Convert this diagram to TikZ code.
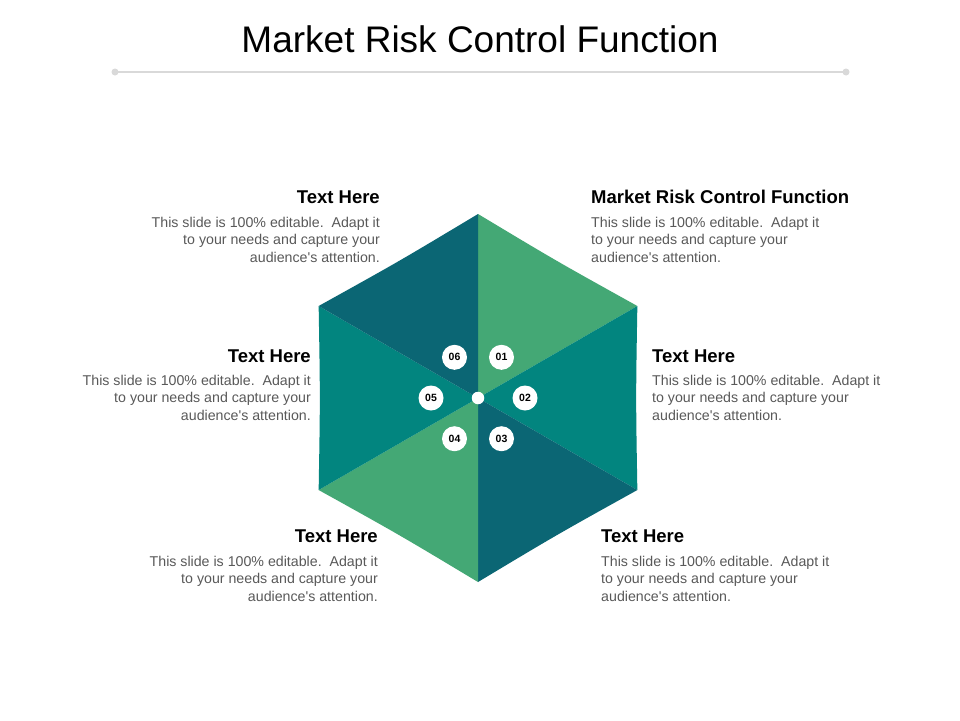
\documentclass[tikz,border=0pt]{standalone}
\usepackage{fontspec}
\setmainfont{Liberation Sans}
\usepackage{tikz}

\definecolor{mrgreen}{HTML}{44A875}
\definecolor{mrteal}{HTML}{02857F}
\definecolor{mrdark}{HTML}{0B6674}
\definecolor{mrgray}{HTML}{595959}
\definecolor{mrrule}{HTML}{D9D9D9}

\newcommand{\blurb}{This slide is 100\% editable.\ \ Adapt it\\to your needs and capture your\\audience\textquotesingle s attention.}

\tikzset{
    heading/.style={font=\fontsize{18.5}{22}\selectfont\bfseries, inner sep=0pt},
    blurbtext/.style={font=\fontsize{14.2}{17.5}\selectfont, text=mrgray, inner sep=0pt},
    badge/.style={circle, fill=white, minimum size=25pt, inner sep=0pt, font=\fontsize{10.5}{10.5}\selectfont\bfseries},
}

\begin{document}
\begin{tikzpicture}[x=1pt, y=-1pt]
        % page
        \fill[white] (0,0) rectangle (960,720);
        % title and rule
        \node[font=\fontsize{37}{40}\selectfont, anchor=base, inner sep=0pt] (title) at (480,52) {Market Risk Control Function};
        \coordinate (ruleL) at (115,72);
        \coordinate (ruleR) at (846,72);
        \draw[mrrule, line width=1.2pt] (ruleL) -- (ruleR);
        \fill[mrrule] (ruleL) circle (3.5) (ruleR) circle (3.5);
        % hexagon: six sectors with slightly hollow outer edges
        \begin{scope}[shift={(478,398)}]
            \foreach \a/\c in {-90/mrgreen, -30/mrteal, 30/mrdark, 90/mrgreen, 150/mrteal, 210/mrdark}
                \fill[\c] (0,0) -- (\a:184) .. controls (\a+30:157.8) .. (\a+60:184) -- cycle;
            \node[circle, fill=white, minimum size=12.5pt, inner sep=0pt] (hub) at (0,0) {};
            \foreach \a [count=\i] in {-60,0,60,120,180,240}
                \node[badge] (n\i) at (\a:47) {0\i};
        \end{scope}
        % texts round the hexagon (base of a text block is its last line)
        \node[heading, anchor=base west] (h1) at (591,203) {Market Risk Control Function};
        \node[blurbtext, align=left, anchor=base west] (t1) at (591,262) {\blurb};
        \node[heading, anchor=base west] (h2) at (652,362) {Text Here};
        \node[blurbtext, align=left, anchor=base west] (t2) at (652,420) {\blurb};
        \node[heading, anchor=base west] (h3) at (601,542) {Text Here};
        \node[blurbtext, align=left, anchor=base west] (t3) at (601,601) {\blurb};
        \node[heading, anchor=base east] (h4) at (378,542) {Text Here};
        \node[blurbtext, align=right, anchor=base east] (t4) at (378,601) {\blurb};
        \node[heading, anchor=base east] (h5) at (311,362) {Text Here};
        \node[blurbtext, align=right, anchor=base east] (t5) at (311,420) {\blurb};
        \node[heading, anchor=base east] (h6) at (380,203) {Text Here};
        \node[blurbtext, align=right, anchor=base east] (t6) at (380,262) {\blurb};
\end{tikzpicture}
\end{document}
